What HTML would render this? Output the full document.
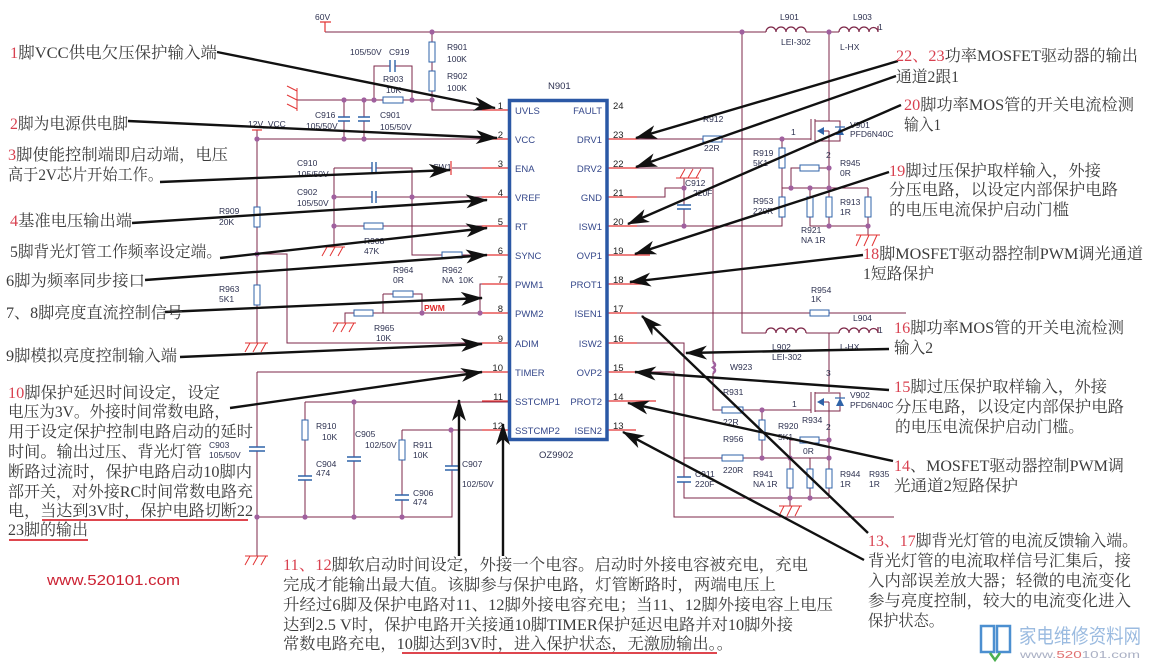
<!DOCTYPE html>
<html><head><meta charset="utf-8"><style>
html,body{margin:0;padding:0;background:#fff;}
svg{display:block;}
.w{stroke:#7d2748;stroke-width:1;fill:none}
.rs{stroke:#e23535;stroke-width:1.2;fill:none}
.res{fill:#fff;stroke:#2f63a8;stroke-width:1}
.cap{stroke:#2f63a8;stroke-width:1.4}
.d{fill:#a0609e}
.g{stroke:#e23535;stroke-width:1;fill:none}
.l{font-family:"Liberation Sans",sans-serif;font-size:8.5px;fill:#2d3150}
.p{font-family:"Liberation Sans",sans-serif;font-size:9.5px;fill:#34478a}
.n{font-family:"Liberation Sans",sans-serif;font-size:9.5px;fill:#222}
.a{font-family:"Liberation Serif","Noto Serif CJK SC",serif;font-size:16px;fill:#3c3c3c}
.k{fill:#d8404f}
.ar{stroke:#111;stroke-width:2.4;fill:none;marker-end:url(#ah)}
.ul{stroke:#d92b35;stroke-width:1.8}
</style></head><body>
<svg width="1151" height="663" viewBox="0 0 1151 663" xmlns="http://www.w3.org/2000/svg">
<defs>
<marker id="ah" viewBox="0 0 22 14" refX="21" refY="7" markerWidth="22" markerHeight="14" markerUnits="userSpaceOnUse" orient="auto"><path d="M0,0 L22,7 L0,14 L6,7 Z" fill="#111"/></marker>
</defs>
<rect width="1151" height="663" fill="#fff"/>

<!-- ===== WIRES ===== -->
<g class="w">
<!-- 60V rail -->
<path d="M325,32 H766 M806,32 H839"/>
<path d="M829,32 V121"/>
<path d="M432,32 V42 M432,62 V71 M432,91 V110 H509"/>
<path d="M742,32 V333 H766 M806,333 H839"/>
<path d="M829,333 V392"/>
<!-- top-left -->
<path d="M297,100 H383 M403,100 H432"/>
<path d="M374,100 V66 H390 M395,66 H412 V100"/>
<path d="M344,100 V117 M344,121 V139 M364,100 V117 M364,121 V139"/>
<path d="M257,130 V207 M257,227 V285 M257,305 V343"/>
<path d="M257,139 H509"/>
<path d="M257,254 H287 V343 H509"/>
<path d="M334,168 H372 M376,168 H412 V255 H442 M462,255 H509"/>
<path d="M334,197 H372 M376,197 H509"/>
<path d="M334,168 V247 M334,226 H364 M383,226 H509"/>
<path d="M452,168 H509"/>
<path d="M383,294 H393 M413,294 H422 V313 M383,294 V313"/>
<path d="M345,323 V313 H354 M373,313 H509"/>
<path d="M480,313 V284 H509"/>
<!-- pin 10/11/12 network -->
<path d="M257,372 H509 M257,372 V447 M257,451 V556"/>
<path d="M257,517 H452 V470 M452,466 V430"/>
<path d="M402,430 H509 M402,430 V440 M402,460 V495 M402,500 V517"/>
<path d="M305,402 H509 M305,402 V420 M305,440 V476 M305,480 V517"/>
<path d="M354,402 V457 M354,461 V517"/>
<!-- right side -->
<path d="M607,139 H703 M722,139 H811"/>
<path d="M607,168 H713 V362 M713,373 V410 H722 M743,410 H811"/>
<path d="M607,197 H665 V188 H684 V205 M684,209 V226"/>
<path d="M684,188 V178"/>
<path d="M607,226 H782 V217 M782,197 V168 M782,148 V139"/>
<path d="M782,188 H868"/>
<path d="M791,188 V168 H800 M819,168 H829"/>
<path d="M829,140 V188"/>
<path d="M810,188 V197 M810,217 V226 H868 M829,188 V197 M829,217 V226 M868,188 V197 M868,217 V235"/>
<path d="M607,313 H810 M829,313 H906"/>
<path d="M607,343 H684 V477 M684,482 V498 H829"/>
<path d="M684,458 H722 M743,458 H829"/>
<path d="M762,410 V420 M762,440 V458"/>
<path d="M829,410 V469"/>
<path d="M790,458 V440 H800 M819,440 H829"/>
<path d="M790,458 V469 M790,488 V506 M810,458 V469 M810,488 V498 M829,488 V498"/>
<path d="M607,372 H674 V517 H894"/>
<!-- MOSFET V901 -->
<path d="M811,119 V140 M815,119 V141 M815,121 H840 V141 H815 M829,131 H822 M829,131 V141"/>
<!-- MOSFET V902 -->
<path d="M811,392 V413 M815,392 V412 M815,393 H840 V411 H815 M829,402 H822 M829,402 V411"/>
</g>

<!-- inductors -->
<g stroke="#7d2748" stroke-width="1.2" fill="none">
<path d="M766,32 a5,5 0 0 1 10,0 a5,5 0 0 1 10,0 a5,5 0 0 1 10,0 a5,5 0 0 1 10,0"/>
<path d="M839,32 a5,5 0 0 1 10,0 a5,5 0 0 1 10,0 a5,5 0 0 1 10,0 a4.5,4.5 0 0 1 9,0 V26"/>
<path d="M766,333 a5,5 0 0 1 10,0 a5,5 0 0 1 10,0 a5,5 0 0 1 10,0 a5,5 0 0 1 10,0"/>
<path d="M839,333 a5,5 0 0 1 10,0 a5,5 0 0 1 10,0 a5,5 0 0 1 10,0 a4.5,4.5 0 0 1 9,0 V327"/>
</g>
<!-- W923 jumper -->
<path d="M713,362 q4,3 0,5.5 q4,3 0,5.5" stroke="#a0609e" stroke-width="2.5" fill="none"/>

<!-- red stubs -->
<g class="rs">
<path d="M482,110 H509 M482,139 H509 M482,168 H509 M482,197 H509 M482,226 H509 M482,255 H509 M482,284 H509 M482,313 H509 M482,343 H509 M482,372 H509 M482,401 H509 M482,430 H509"/>
<path d="M607,139 H637 M607,168 H637 M607,197 H637 M607,226 H637 M607,255 H650 M607,284 H647 M607,313 H637 M607,343 H637 M607,372 H637 M607,401 H656 M607,430 H636"/>
<path d="M320,22 H331 M325,22 V32"/>
<path d="M252,130 H262"/>
<path d="M451,161 V175"/>
</g>

<!-- resistors -->
<g class="res">
<rect x="429" y="42" width="6" height="20"/>
<rect x="429" y="71" width="6" height="20"/>
<rect x="383" y="97" width="20" height="6"/>
<rect x="254" y="207" width="6" height="20"/>
<rect x="254" y="285" width="6" height="20"/>
<rect x="364" y="223" width="19" height="6"/>
<rect x="442" y="252" width="20" height="6"/>
<rect x="393" y="291" width="20" height="6"/>
<rect x="354" y="310" width="19" height="6"/>
<rect x="302" y="420" width="6" height="20"/>
<rect x="399" y="440" width="6" height="20"/>
<rect x="703" y="136" width="19" height="6"/>
<rect x="779" y="148" width="6" height="20"/>
<rect x="779" y="197" width="6" height="20"/>
<rect x="800" y="165" width="19" height="6"/>
<rect x="807" y="197" width="6" height="20"/>
<rect x="826" y="197" width="6" height="20"/>
<rect x="865" y="197" width="6" height="20"/>
<rect x="810" y="310" width="19" height="6"/>
<rect x="722" y="407" width="21" height="6"/>
<rect x="759" y="420" width="6" height="20"/>
<rect x="800" y="437" width="19" height="6"/>
<rect x="722" y="455" width="21" height="6"/>
<rect x="787" y="469" width="6" height="19"/>
<rect x="807" y="469" width="6" height="19"/>
<rect x="826" y="469" width="6" height="19"/>
</g>

<!-- capacitors -->
<g class="cap">
<path d="M390,60 V72 M395,60 V72"/>
<path d="M338,117 H350 M338,121 H350 M358,117 H370 M358,121 H370"/>
<path d="M372,162 V174 M376,162 V174 M372,191 V203 M376,191 V203"/>
<path d="M249,447 H265 M249,451 H265"/>
<path d="M298,476 H312 M298,480 H312 M347,457 H361 M347,461 H361 M395,495 H409 M395,500 H409 M445,466 H459 M445,470 H459"/>
<path d="M677,205 H691 M677,209 H691 M677,477 H691 M677,482 H691"/>
</g>

<!-- MOSFET diodes -->
<g fill="#2f63a8">
<path d="M836,135 L844,135 L840,127 Z"/><path d="M835,127 H845" stroke="#2f63a8" stroke-width="1.2"/>
<path d="M817,131 L824,127 L824,135 Z"/>
<path d="M836,406 L844,406 L840,398 Z"/><path d="M835,398 H845" stroke="#2f63a8" stroke-width="1.2"/>
<path d="M817,402 L824,398 L824,406 Z"/>
</g>

<!-- grounds -->
<g class="g">
<path d="M297,88 V111 M297,91 L287,86 M297,100 L287,95 M297,109 L287,104"/>
<path d="M245,343 H268 M250,343 L245,352 M258,343 L253,352 M266,343 L261,352"/>
<path d="M322,247 H345 M327,247 L322,256 M335,247 L330,256 M343,247 L338,256"/>
<path d="M333,323 H356 M338,323 L333,332 M346,323 L341,332 M354,323 L349,332"/>
<path d="M245,556 H268 M250,556 L245,565 M258,556 L253,565 M266,556 L261,565"/>
<path d="M856,235 H880 M861,235 L856,246 M869,235 L864,246 M877,235 L872,246"/>
<path d="M779,506 H802 M784,506 L779,516 M792,506 L787,516 M800,506 L795,516"/>
<path d="M676,178 H699 M680,178 L685,169 M688,178 L693,169 M696,178 L701,169"/>
</g>

<!-- junction dots -->
<g class="d">
<circle cx="432" cy="32" r="2.6"/><circle cx="742" cy="32" r="2.6"/><circle cx="829" cy="32" r="2.6"/>
<circle cx="344" cy="100" r="2.6"/><circle cx="364" cy="100" r="2.6"/><circle cx="374" cy="100" r="2.6"/><circle cx="412" cy="100" r="2.6"/><circle cx="432" cy="100" r="2.6"/>
<circle cx="344" cy="139" r="2.6"/><circle cx="364" cy="139" r="2.6"/><circle cx="257" cy="139" r="2.6"/>
<circle cx="334" cy="197" r="2.6"/><circle cx="412" cy="197" r="2.6"/><circle cx="334" cy="226" r="2.6"/>
<circle cx="257" cy="254" r="2.6"/><circle cx="422" cy="313" r="2.6"/><circle cx="480" cy="313" r="2.6"/>
<circle cx="354" cy="402" r="2.6"/><circle cx="451" cy="430" r="2.6"/>
<circle cx="257" cy="517" r="2.6"/><circle cx="305" cy="517" r="2.6"/><circle cx="354" cy="517" r="2.6"/><circle cx="402" cy="517" r="2.6"/>
<circle cx="782" cy="139" r="2.6"/><circle cx="684" cy="188" r="2.6"/><circle cx="684" cy="226" r="2.6"/>
<circle cx="791" cy="188" r="2.6"/><circle cx="810" cy="188" r="2.6"/><circle cx="829" cy="188" r="2.6"/><circle cx="829" cy="168" r="2.6"/>
<circle cx="829" cy="226" r="2.6"/><circle cx="868" cy="226" r="2.6"/>
<circle cx="762" cy="410" r="2.6"/><circle cx="829" cy="440" r="2.6"/><circle cx="762" cy="458" r="2.6"/><circle cx="790" cy="458" r="2.6"/><circle cx="829" cy="458" r="2.6"/>
<circle cx="790" cy="498" r="2.6"/><circle cx="810" cy="498" r="2.6"/>
</g>

<!-- IC -->
<rect x="509.5" y="100.5" width="97.5" height="339" fill="none" stroke="#2b58a5" stroke-width="3.5"/>
<g class="p">
<text x="515" y="114">UVLS</text><text x="515" y="143">VCC</text><text x="515" y="172">ENA</text><text x="515" y="201">VREF</text>
<text x="515" y="230">RT</text><text x="515" y="259">SYNC</text><text x="515" y="288">PWM1</text><text x="515" y="317">PWM2</text>
<text x="515" y="347">ADIM</text><text x="515" y="376">TIMER</text><text x="515" y="405">SSTCMP1</text><text x="515" y="434">SSTCMP2</text>
</g>
<g class="p" text-anchor="end">
<text x="602" y="114">FAULT</text><text x="602" y="143">DRV1</text><text x="602" y="172">DRV2</text><text x="602" y="201">GND</text>
<text x="602" y="230">ISW1</text><text x="602" y="259">OVP1</text><text x="602" y="288">PROT1</text><text x="602" y="317">ISEN1</text>
<text x="602" y="347">ISW2</text><text x="602" y="376">OVP2</text><text x="602" y="405">PROT2</text><text x="602" y="434">ISEN2</text>
</g>
<g class="n" text-anchor="end">
<text x="503" y="109">1</text><text x="503" y="138">2</text><text x="503" y="167">3</text><text x="503" y="196">4</text>
<text x="503" y="225">5</text><text x="503" y="254">6</text><text x="503" y="283">7</text><text x="503" y="312">8</text>
<text x="503" y="342">9</text><text x="503" y="371">10</text><text x="503" y="400">11</text><text x="503" y="429">12</text>
</g>
<g class="n">
<text x="613" y="109">24</text><text x="613" y="138">23</text><text x="613" y="167">22</text><text x="613" y="196">21</text>
<text x="613" y="225">20</text><text x="613" y="254">19</text><text x="613" y="283">18</text><text x="613" y="312">17</text>
<text x="613" y="342">16</text><text x="613" y="371">15</text><text x="613" y="400">14</text><text x="613" y="429">13</text>
</g>

<!-- component labels -->
<g class="l">
<text x="315" y="20">60V</text>
<text x="548" y="89" style="font-size:9.5px">N901</text>
<text x="539" y="458" style="font-size:9.5px">OZ9902</text>
<text x="350" y="55">105/50V</text><text x="389" y="55">C919</text>
<text x="383" y="82">R903</text><text x="386" y="93">10K</text>
<text x="447" y="50">R901</text><text x="447" y="62">100K</text><text x="447" y="79">R902</text><text x="447" y="91">100K</text>
<text x="315" y="118">C916</text><text x="306" y="129">105/50V</text>
<text x="380" y="118">C901</text><text x="380" y="130">105/50V</text>
<text x="248" y="127">12V_VCC</text>
<text x="297" y="166">C910</text><text x="297" y="177">105/50V</text>
<text x="297" y="195">C902</text><text x="297" y="206">105/50V</text>
<text x="219" y="214">R909</text><text x="219" y="225">20K</text>
<text x="364" y="244">R908</text><text x="364" y="254">47K</text>
<text x="433" y="170">SW1</text>
<text x="393" y="273">R964</text><text x="393" y="283">0R</text>
<text x="442" y="273">R962</text><text x="442" y="283">NA&#160; 10K</text>
<text x="424" y="311" style="fill:#e02a2a;font-weight:bold">PWM</text>
<text x="219" y="292">R963</text><text x="219" y="302">5K1</text>
<text x="374" y="331">R965</text><text x="376" y="341">10K</text>
<text x="316" y="429">R910</text><text x="322" y="440">10K</text>
<text x="355" y="437">C905</text><text x="365" y="448">102/50V</text>
<text x="209" y="448">C903</text><text x="209" y="458">105/50V</text>
<text x="316" y="467">C904</text><text x="316" y="476">474</text>
<text x="413" y="448">R911</text><text x="413" y="458">10K</text>
<text x="413" y="496">C906</text><text x="413" y="505">474</text>
<text x="462" y="467">C907</text><text x="462" y="487">102/50V</text>
<text x="703" y="122">R912</text><text x="704" y="151">22R</text>
<text x="685" y="186">C912</text><text x="693" y="196">220F</text>
<text x="753" y="156">R919</text><text x="753" y="166">5K1</text>
<text x="753" y="204">R953</text><text x="753" y="214">220R</text>
<text x="840" y="166">R945</text><text x="840" y="176">0R</text>
<text x="840" y="205">R913</text><text x="840" y="215">1R</text>
<text x="801" y="233">R921</text><text x="801" y="243">NA 1R</text>
<text x="850" y="128">V901</text><text x="850" y="137">PFD6N40C</text>
<text x="780" y="20">L901</text><text x="781" y="45">LEI-302</text>
<text x="853" y="20">L903</text><text x="840" y="50">L-HX</text>
<text x="878" y="30">1</text><text x="791" y="135">1</text><text x="826" y="158">2</text>
<text x="811" y="293">R954</text><text x="811" y="302">1K</text>
<text x="853" y="321">L904</text><text x="878" y="333">1</text>
<text x="772" y="350">L902</text><text x="772" y="360">LEI-302</text>
<text x="840" y="350">L-HX</text>
<text x="730" y="370">W923</text>
<text x="723" y="395">R931</text><text x="723" y="425">22R</text>
<text x="850" y="398">V902</text><text x="850" y="408">PFD6N40C</text>
<text x="792" y="407">1</text><text x="826" y="376">3</text><text x="826" y="430">2</text>
<text x="802" y="423">R934</text>
<text x="778" y="429">R920</text><text x="778" y="440">5K1</text>
<text x="803" y="454">0R</text>
<text x="723" y="442">R956</text><text x="723" y="473">220R</text>
<text x="695" y="477">C911</text><text x="695" y="487">220F</text>
<text x="753" y="477">R941</text><text x="753" y="487">NA 1R</text>
<text x="840" y="477">R944</text><text x="840" y="487">1R</text>
<text x="869" y="477">R935</text><text x="869" y="487">1R</text>
</g>

<!-- ===== ARROWS ===== -->
<g class="ar">
<line x1="217" y1="52" x2="495" y2="108"/>
<line x1="128" y1="121" x2="497" y2="138"/>
<line x1="160" y1="182" x2="450" y2="170"/>
<line x1="132" y1="223" x2="487" y2="200"/>
<line x1="220" y1="258" x2="487" y2="228"/>
<line x1="145" y1="280" x2="487" y2="255"/>
<line x1="165" y1="312" x2="482" y2="298"/>
<line x1="180" y1="357" x2="482" y2="344"/>
<line x1="230" y1="408" x2="482" y2="372"/>
<line x1="459" y1="556" x2="459" y2="400"/>
<line x1="503" y1="556" x2="503" y2="424"/>
<line x1="898" y1="61" x2="636" y2="138"/>
<line x1="896" y1="76" x2="636" y2="167"/>
<line x1="901" y1="105" x2="628" y2="224"/>
<line x1="889" y1="172" x2="635" y2="254"/>
<line x1="863" y1="255" x2="630" y2="282"/>
<line x1="889" y1="349" x2="686" y2="353"/>
<line x1="889" y1="390" x2="635" y2="372"/>
<line x1="893" y1="461" x2="628" y2="403"/>
<line x1="868" y1="533" x2="642" y2="316"/>
<line x1="864" y1="560" x2="623" y2="432"/>
</g>

<!-- ===== ANNOTATIONS ===== -->
<g class="a" lengthAdjust="spacingAndGlyphs">
<text x="10" y="58" textLength="207" lengthAdjust="spacingAndGlyphs"><tspan class="k">1</tspan>脚VCC供电欠压保护输入端</text>
<text x="10" y="129" textLength="118" lengthAdjust="spacingAndGlyphs"><tspan class="k">2</tspan>脚为电源供电脚</text>
<text x="8" y="160" textLength="220" lengthAdjust="spacingAndGlyphs"><tspan class="k">3</tspan>脚使能控制端即启动端，电压</text>
<text x="8" y="180" textLength="155" lengthAdjust="spacingAndGlyphs">高于2V芯片开始工作。</text>
<text x="10" y="226" textLength="122" lengthAdjust="spacingAndGlyphs"><tspan class="k">4</tspan>基准电压输出端</text>
<text x="10" y="257" textLength="212" lengthAdjust="spacingAndGlyphs">5脚背光灯管工作频率设定端。</text>
<text x="6" y="286" textLength="139" lengthAdjust="spacingAndGlyphs">6脚为频率同步接口</text>
<text x="6" y="318" textLength="177" lengthAdjust="spacingAndGlyphs">7、8脚亮度直流控制信号</text>
<text x="6" y="361" textLength="171" lengthAdjust="spacingAndGlyphs">9脚模拟亮度控制输入端</text>

<text x="8" y="398" textLength="212" lengthAdjust="spacingAndGlyphs"><tspan class="k">10</tspan>脚保护延迟时间设定，设定</text>
<text x="8" y="417" textLength="222" lengthAdjust="spacingAndGlyphs">电压为3V。外接时间常数电路，</text>
<text x="8" y="437" textLength="245" lengthAdjust="spacingAndGlyphs">用于设定保护控制电路启动的延时</text>
<text x="8" y="457" textLength="194" lengthAdjust="spacingAndGlyphs">时间。输出过压、背光灯管</text>
<text x="8" y="477" textLength="244" lengthAdjust="spacingAndGlyphs">断路过流时，保护电路启动10脚内</text>
<text x="8" y="497" textLength="245" lengthAdjust="spacingAndGlyphs">部开关，对外接RC时间常数电路充</text>
<text x="8" y="516" textLength="245" lengthAdjust="spacingAndGlyphs">电，当达到3V时，保护电路切断22</text>
<text x="8" y="535" textLength="80" lengthAdjust="spacingAndGlyphs">23脚的输出</text>

<text x="283" y="570" textLength="525" lengthAdjust="spacingAndGlyphs"><tspan class="k">11、12</tspan>脚软启动时间设定，外接一个电容。启动时外接电容被充电，充电</text>
<text x="283" y="590" textLength="493" lengthAdjust="spacingAndGlyphs">完成才能输出最大值。该脚参与保护电路，灯管断路时，两端电压上</text>
<text x="283" y="610" textLength="550" lengthAdjust="spacingAndGlyphs">升经过6脚及保护电路对11、12脚外接电容充电；当11、12脚外接电容上电压</text>
<text x="283" y="630" textLength="510" lengthAdjust="spacingAndGlyphs">达到2.5 V时，保护电路开关接通10脚TIMER保护延迟电路并对10脚外接</text>
<text x="283" y="649" textLength="450" lengthAdjust="spacingAndGlyphs">常数电路充电，10脚达到3V时，进入保护状态，无激励输出。。</text>

<text x="896" y="61" textLength="242" lengthAdjust="spacingAndGlyphs"><tspan class="k">22、23</tspan>功率MOSFET驱动器的输出</text>
<text x="896" y="82" textLength="63" lengthAdjust="spacingAndGlyphs">通道2跟1</text>
<text x="904" y="110" textLength="230" lengthAdjust="spacingAndGlyphs"><tspan class="k">20</tspan>脚功率MOS管的开关电流检测</text>
<text x="904" y="130" textLength="37" lengthAdjust="spacingAndGlyphs">输入1</text>
<text x="889" y="176" textLength="212" lengthAdjust="spacingAndGlyphs"><tspan class="k">19</tspan>脚过压保护取样输入，外接</text>
<text x="889" y="195" textLength="229" lengthAdjust="spacingAndGlyphs">分压电路，以设定内部保护电路</text>
<text x="889" y="215" textLength="180" lengthAdjust="spacingAndGlyphs">的电压电流保护启动门槛</text>
<text x="863" y="259" textLength="280" lengthAdjust="spacingAndGlyphs"><tspan class="k">18</tspan>脚MOSFET驱动器控制PWM调光通道</text>
<text x="863" y="279" textLength="71" lengthAdjust="spacingAndGlyphs">1短路保护</text>
<text x="894" y="333" textLength="230" lengthAdjust="spacingAndGlyphs"><tspan class="k">16</tspan>脚功率MOS管的开关电流检测</text>
<text x="894" y="353" textLength="39" lengthAdjust="spacingAndGlyphs">输入2</text>
<text x="894" y="392" textLength="213" lengthAdjust="spacingAndGlyphs"><tspan class="k">15</tspan>脚过压保护取样输入，外接</text>
<text x="895" y="412" textLength="229" lengthAdjust="spacingAndGlyphs">分压电路，以设定内部保护电路</text>
<text x="895" y="432" textLength="189" lengthAdjust="spacingAndGlyphs">的电压电流保护启动门槛。</text>
<text x="894" y="471" textLength="230" lengthAdjust="spacingAndGlyphs"><tspan class="k">14</tspan>、MOSFET驱动器控制PWM调</text>
<text x="894" y="491" textLength="124" lengthAdjust="spacingAndGlyphs">光通道2短路保护</text>
<text x="868" y="546" textLength="270" lengthAdjust="spacingAndGlyphs"><tspan class="k">13、17</tspan>脚背光灯管的电流反馈输入端。</text>
<text x="868" y="566" textLength="263" lengthAdjust="spacingAndGlyphs">背光灯管的电流取样信号汇集后，接</text>
<text x="868" y="586" textLength="263" lengthAdjust="spacingAndGlyphs">入内部误差放大器；轻微的电流变化</text>
<text x="868" y="606" textLength="263" lengthAdjust="spacingAndGlyphs">参与亮度控制，较大的电流变化进入</text>
<text x="868" y="626" textLength="76" lengthAdjust="spacingAndGlyphs">保护状态。</text>
</g>

<!-- underlines -->
<line class="ul" x1="42" y1="520" x2="248" y2="520"/>
<line class="ul" x1="9" y1="540" x2="88" y2="540"/>
<line class="ul" x1="402" y1="653" x2="717" y2="653"/>

<!-- website -->
<text x="47" y="585" textLength="133" lengthAdjust="spacingAndGlyphs" style="font-family:'Liberation Sans',sans-serif;font-size:15px;fill:#cc2233">www.520101.com</text>

<!-- logo -->
<path d="M981,626 V652 H994 V626 Z M997,626 V652 H1010 V626 Z" stroke="#4c8fd0" stroke-width="2.5" fill="none"/>
<path d="M990,653 L995,660 L1000,653" stroke="#4caf50" stroke-width="2.5" fill="none"/>
<text x="1019" y="643" textLength="122" lengthAdjust="spacingAndGlyphs" style="font-family:'Liberation Sans','Noto Sans CJK SC',sans-serif;font-size:20px;fill:#9bbbe0">家电维修资料网</text>
<text x="1020" y="658" textLength="120" lengthAdjust="spacingAndGlyphs" style="font-family:'Liberation Sans',sans-serif;font-size:10px;fill:#aab0c4">www.<tspan style="fill:#e07070">520</tspan>101.com</text>
</svg>
</body></html>
